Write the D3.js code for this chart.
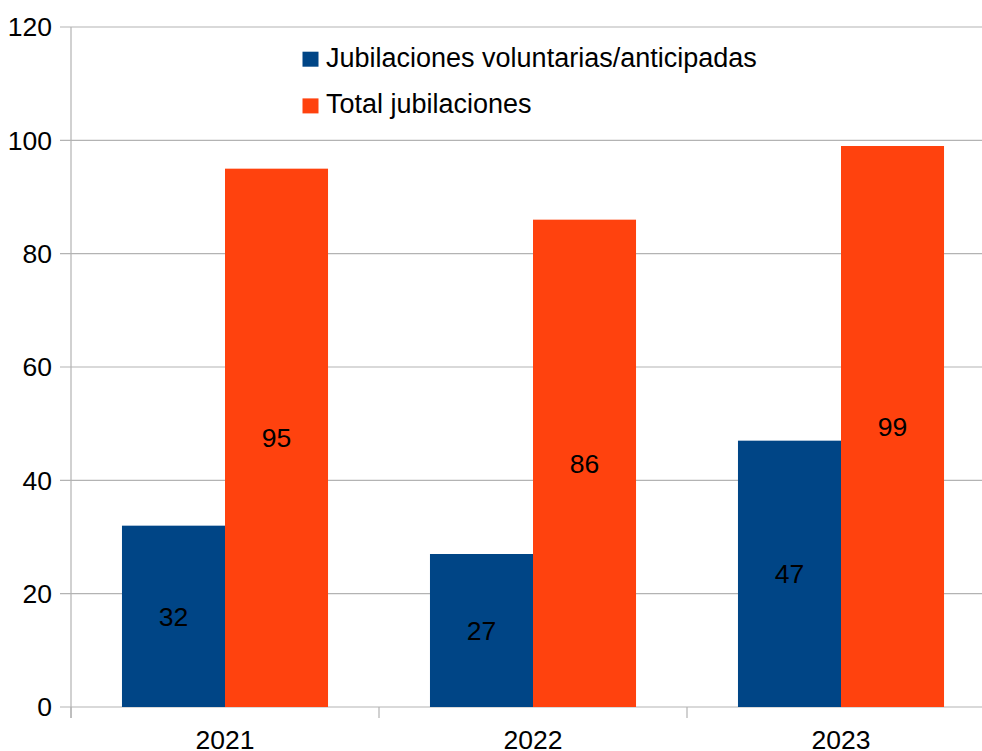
<!DOCTYPE html>
<html><head><meta charset="utf-8">
<script src="https://cdn.jsdelivr.net/npm/d3@7"></script>
<style>body{margin:0;background:#fff;} text{font-family:"Liberation Sans",Arial,sans-serif;}</style>
</head><body>
<svg id="c" width="982" height="751"></svg>
<script>
const categories = ["2021","2022","2023"];
const seriesNames = ["Jubilaciones voluntarias/anticipadas","Total jubilaciones"];
const voluntarias = [32,27,47];
const total = [95,86,99];
const yTicks = [0,20,40,60,80,100,120];
const colors = ["#004586","#ff420e"];

(function(){
const svg = d3.select("#c");
const pL = 71, pR = 995, pT = 27, pB = 707;
const fs = 26.5;
const x0 = d3.scaleBand().domain(categories).range([pL,pR]).paddingInner(0.331).paddingOuter(0.1655);
const x1 = d3.scaleBand().domain([0,1]).range([0,x0.bandwidth()]);
const y = d3.scaleLinear().domain([0,120]).range([pB,pT]);

svg.append("g").selectAll("line").data(yTicks).join("line")
  .attr("x1",60).attr("x2",982).attr("y1",d=>y(d)).attr("y2",d=>y(d))
  .attr("stroke","#b3b3b3").attr("stroke-width",1.2);
svg.append("line").attr("x1",pL).attr("x2",pL).attr("y1",pT).attr("y2",718).attr("stroke","#b3b3b3").attr("stroke-width",1.2);
const step = x0.step();
svg.append("g").selectAll("line").data(d3.range(categories.length+1)).join("line")
  .attr("x1",d=>pL+d*step).attr("x2",d=>pL+d*step).attr("y1",pB).attr("y2",718)
  .attr("stroke","#b3b3b3").attr("stroke-width",1.2);

svg.append("g").selectAll("text").data(yTicks).join("text")
  .attr("x",52).attr("y",d=>y(d)).attr("dy","0.35em").attr("text-anchor","end")
  .attr("font-size",fs).text(d=>d);

svg.append("g").selectAll("text").data(categories).join("text")
  .attr("x",d=>x0(d)+x0.bandwidth()/2).attr("y",749).attr("text-anchor","middle")
  .attr("font-size",fs).text(d=>d);

const series = [voluntarias,total];
series.forEach((vals,si)=>{
  const g = svg.append("g");
  g.selectAll("rect").data(vals).join("rect")
    .attr("x",(d,i)=>x0(categories[i])+x1(si)).attr("width",x1.bandwidth())
    .attr("y",d=>y(d)).attr("height",d=>pB-y(d)).attr("fill",colors[si]);
  g.selectAll("text").data(vals).join("text")
    .attr("x",(d,i)=>x0(categories[i])+x1(si)+x1.bandwidth()/2)
    .attr("y",d=>(y(d)+pB)/2).attr("dy","0.35em").attr("text-anchor","middle")
    .attr("font-size",fs).attr("fill","#000").text(d=>d);
});

const lg = svg.append("g");
seriesNames.forEach((n,i)=>{
  const base = 66.7 + i*46.7;
  lg.append("rect").attr("x",302.5).attr("y",base-15).attr("width",16).attr("height",15).attr("fill",colors[i]);
  lg.append("text").attr("x",326).attr("y",base).attr("font-size",27).text(n);
});
})();
</script>
</body></html>
